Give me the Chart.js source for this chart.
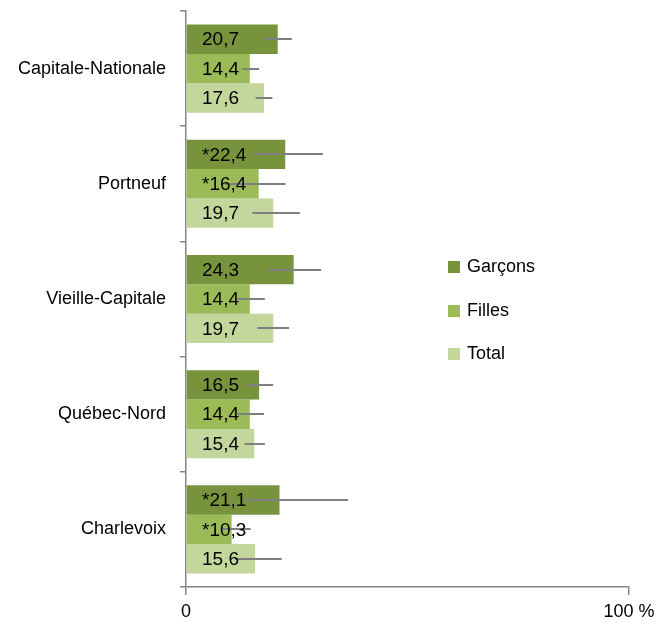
<!DOCTYPE html>
<html>
<head>
<meta charset="utf-8">
<script src="https://cdn.jsdelivr.net/npm/chart.js@4"></script>
<style>
  body { margin: 0; background: #fff; font-family: "Liberation Sans", Arial, sans-serif; }
  #wrap { position: relative; width: 664px; height: 627px; }
  .leg { position: absolute; left: 448px; font-size: 18px; color: #000; line-height: 20px; }
  .leg span { display: inline-block; width: 12px; height: 12px; margin-right: 7px; vertical-align: -1px; }
</style>
</head>
<body>
<div id="wrap">
  <canvas id="chart"></canvas>
  <div class="leg" style="top:256px"><span style="background:#77933C"></span>Garçons</div>
  <div class="leg" style="top:300px"><span style="background:#9BBB59"></span>Filles</div>
  <div class="leg" style="top:343px"><span style="background:#C3D69B"></span>Total</div>
</div>
<script>
const regions = ["Capitale-Nationale", "Portneuf", "Vieille-Capitale", "Québec-Nord", "Charlevoix"];

const garcons = [20.7, 22.4, 24.3, 16.5, 21.1];
const filles = [14.4, 16.4, 14.4, 14.4, 10.3];
const total = [17.6, 19.7, 19.7, 15.4, 15.6];

// intervalles de confiance (bornes)
const garconsLow = [17.6, 15.4, 18.0, 13.5, 13.5];
const garconsHigh = [23.9, 30.9, 30.5, 19.7, 36.6];
const fillesLow = [12.6, 8.8, 11.6, 11.6, 8.2];
const fillesHigh = [16.5, 22.5, 17.8, 17.6, 14.6];
const totalLow = [15.7, 15.0, 16.1, 13.2, 11.1];
const totalHigh = [19.5, 25.7, 23.3, 17.8, 21.6];

// * = à interpréter avec prudence
const garconsStar = [false, true, false, false, true];
const fillesStar = [false, true, false, false, true];
const totalStar = [false, false, false, false, false];

const xTicks = [0, 100];

const FONT = "'Liberation Sans', Arial, sans-serif";

const extras = [
  { low: garconsLow, high: garconsHigh, star: garconsStar },
  { low: fillesLow, high: fillesHigh, star: fillesStar },
  { low: totalLow, high: totalHigh, star: totalStar }
];

const barExtras = {
  id: 'barExtras',
  afterDatasetsDraw(chart) {
    const ctx = chart.ctx;
    const x = chart.scales.x;
    ctx.save();
    chart.data.datasets.forEach((ds, i) => {
      const meta = chart.getDatasetMeta(i);
      meta.data.forEach((bar, j) => {
        // error bar
        ctx.strokeStyle = '#808080';
        ctx.lineWidth = 2;
        ctx.beginPath();
        ctx.moveTo(x.getPixelForValue(extras[i].low[j]), Math.round(bar.y));
        ctx.lineTo(x.getPixelForValue(extras[i].high[j]), Math.round(bar.y));
        ctx.stroke();
        // label
        const txt = (extras[i].star[j] ? '*' : '') + ds.data[j].toFixed(1).replace('.', ',');
        ctx.fillStyle = '#000';
        ctx.font = '19px ' + FONT;
        ctx.textAlign = 'left';
        ctx.textBaseline = 'middle';
        ctx.fillText(txt, x.getPixelForValue(0) + 16, bar.y + 1);
      });
    });
    ctx.restore();
  }
};

new Chart(document.getElementById('chart'), {
  type: 'bar',
  data: {
    labels: regions,
    datasets: [
      { label: 'Garçons', data: garcons, backgroundColor: '#77933C' },
      { label: 'Filles', data: filles, backgroundColor: '#9BBB59' },
      { label: 'Total', data: total, backgroundColor: '#C3D69B' }
    ]
  },
  options: {
    indexAxis: 'y',
    responsive: true,
    maintainAspectRatio: false,
    animation: false,
    categoryPercentage: 0.765,
    barPercentage: 1,
    layout: { padding: { left: 0, right: 35, top: 11, bottom: 0 } },
    plugins: { legend: { display: false }, tooltip: { enabled: false } },
    scales: {
      x: {
        min: 0, max: 100,
        afterBuildTicks: s => { s.ticks = xTicks.map(v => ({ value: v })); },
        afterFit: s => { s.height = 40; },
        grid: { drawOnChartArea: false, color: '#868686', tickLength: 8, lineWidth: 1.5 },
        border: { color: '#868686', width: 1.5 },
        ticks: {
          color: '#000', font: { size: 18, family: FONT }, padding: 6, maxRotation: 0,
          callback: v => v === 100 ? '100 %' : String(v)
        }
      },
      y: {
        afterFit: s => { s.width = 186; s.paddingTop = 0; s.paddingBottom = 0; },
        grid: { offset: true, drawOnChartArea: false, color: '#868686', tickLength: 6, lineWidth: 1.5 },
        border: { color: '#868686', width: 1.5 },
        ticks: { color: '#000', font: { size: 18, family: FONT }, padding: 14 }
      }
    }
  },
  plugins: [barExtras]
});
</script>
</body>
</html>
